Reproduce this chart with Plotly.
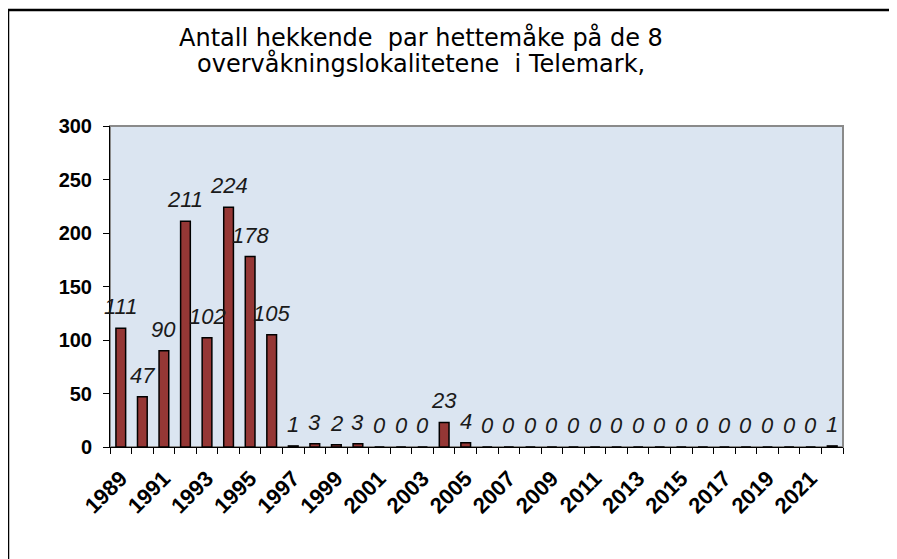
import plotly.graph_objects as go

years = list(range(1989, 2023))
counts = [111, 47, 90, 211, 102, 224, 178, 105, 1, 3, 2, 3, 0, 0, 0, 23, 4,
          0, 0, 0, 0, 0, 0, 0, 0, 0, 0, 0, 0, 0, 0, 0, 0, 1]
tick_years = [1989, 1991, 1993, 1995, 1997, 1999, 2001, 2003, 2005, 2007,
              2009, 2011, 2013, 2015, 2017, 2019, 2021]
title_lines = ["Antall hekkende  par hettemåke på de 8",
               "overvåkningslokalitetene  i Telemark,"]

cats = [str(y) for y in years]
tick_text = [str(y) if y in tick_years else "" for y in years]

# page offset (body margin) of 8 px
OFF = 8
W, H = 897 - OFF, 559 - OFF
L, T = 110 - OFF, 126 - OFF
R = W - (843 - OFF)
B = H - (447 - OFF)
pw, ph = W - L - R, H - T - B

def px_x(x):  # reference pixel -> paper
    return (x - OFF - L) / pw

def px_y(y):
    return (H - B - (y - OFF)) / ph

fig = go.Figure()
fig.add_trace(go.Bar(
    x=cats, y=counts,
    marker=dict(color="#953735", line=dict(color="black", width=1.5)),
    width=0.45,
    hoverinfo="x+y",
))

annotations = []
for i, v in enumerate(counts):
    annotations.append(dict(
        x=i, y=v, xref="x", yref="y", text=str(v), showarrow=False,
        yanchor="bottom", xanchor="center", yshift=7,
        font=dict(family="Liberation Sans, Arial", size=22, color="#1a1a1a",
                  style="italic"),
    ))
title_y = [37, 63.5]
for line, yy in zip(title_lines, title_y):
    annotations.append(dict(
        x=px_x(421), y=px_y(yy), xref="paper", yref="paper", text=line,
        showarrow=False, xanchor="center", yanchor="middle",
        font=dict(family="DejaVu Sans", size=24, color="black"),
    ))

shapes = [
    dict(type="rect", xref="paper", yref="paper", x0=0, y0=0, x1=1, y1=1,
         line=dict(color="#8a8a8a", width=2), layer="below"),
    dict(type="rect", xref="paper", yref="paper",
         x0=px_x(8), y0=px_y(10), x1=px_x(920), y1=px_y(590),
         line=dict(color="black", width=2.5), layer="above"),
]

ytickfont = dict(family="Liberation Sans, Arial", size=20, color="black",
                 weight="bold")
xtickfont = dict(family="Liberation Sans, Arial", size=22, color="black",
                 weight="bold")

fig.update_layout(
    width=W, height=H,
    margin=dict(l=L, r=R, t=T, b=B, pad=0),
    paper_bgcolor="white",
    plot_bgcolor="#dbe5f1",
    showlegend=False,
    annotations=annotations,
    shapes=shapes,
    xaxis=dict(
        type="category",
        range=[-0.5, len(cats) - 0.5],
        tickmode="array", tickvals=cats, ticktext=tick_text,
        tickson="boundaries",
        tickangle=-45, tickfont=xtickfont,
        ticks="outside", ticklen=6, tickcolor="black", tickwidth=1,
        showgrid=False, zeroline=False,
        showline=True, linecolor="black", linewidth=1,
        ticklabelstandoff=9,
    ),
    yaxis=dict(
        range=[0, 300], tickmode="linear", tick0=0, dtick=50,
        ticks="outside", ticklen=6, tickcolor="black", tickwidth=1,
        tickfont=ytickfont, showgrid=False, zeroline=False,
        showline=True, linecolor="black", linewidth=1,
        ticklabelstandoff=7,
    ),
)

fig.write_html("out.html")
